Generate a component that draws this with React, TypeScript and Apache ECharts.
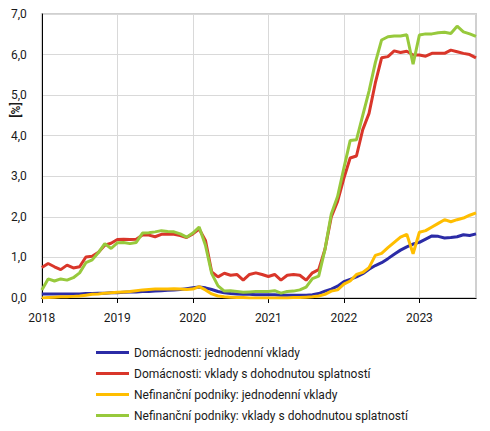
import React, { useEffect, useRef } from "react";
import * as echarts from "echarts";

const years = [2018, 2019, 2020, 2021, 2022, 2023];
const monthsInLastYear = 10;
const categories: string[] = [];
for (const y of years) {
  const n = y === 2023 ? monthsInLastYear : 12;
  for (let m = 1; m <= n; m++) categories.push(`${y}-${m < 10 ? "0" + m : m}`);
}

const seriesNames = [
  "Domácnosti: jednodenní vklady",
  "Domácnosti: vklady s dohodnutou splatností",
  "Nefinanční podniky: jednodenní vklady",
  "Nefinanční podniky: vklady s dohodnutou splatností",
];

const householdsOvernight = [
  0.10, 0.10, 0.10, 0.10, 0.10, 0.10, 0.10, 0.11, 0.11, 0.12, 0.12, 0.13,
  0.13, 0.14, 0.15, 0.15, 0.16, 0.16, 0.17, 0.18, 0.19, 0.20, 0.21, 0.23,
  0.25, 0.27, 0.25, 0.21, 0.16, 0.13, 0.11, 0.10, 0.09, 0.09, 0.08, 0.08,
  0.08, 0.08, 0.07, 0.07, 0.07, 0.07, 0.07, 0.08, 0.11, 0.17, 0.22, 0.29,
  0.40, 0.46, 0.52, 0.60, 0.71, 0.80, 0.87, 0.97, 1.08, 1.18, 1.26, 1.33,
  1.37, 1.45, 1.53, 1.52, 1.48, 1.49, 1.51, 1.56, 1.54, 1.58,
];

const householdsAgreed = [
  0.75, 0.85, 0.77, 0.70, 0.81, 0.74, 0.77, 1.01, 1.03, 1.13, 1.30, 1.35,
  1.44, 1.45, 1.44, 1.45, 1.55, 1.55, 1.51, 1.57, 1.58, 1.57, 1.54, 1.49,
  1.58, 1.70, 1.42, 0.64, 0.52, 0.61, 0.56, 0.58, 0.44, 0.58, 0.62, 0.58,
  0.53, 0.58, 0.44, 0.56, 0.58, 0.56, 0.44, 0.62, 0.70, 1.20, 2.00, 2.38,
  2.95, 3.45, 3.50, 4.15, 4.55, 5.30, 5.92, 5.95, 6.09, 6.05, 6.08, 5.99,
  5.99, 5.96, 6.03, 6.03, 6.03, 6.11, 6.07, 6.03, 6.00, 5.92,
];

const corporateOvernight = [
  0.00, 0.01, 0.02, 0.03, 0.03, 0.04, 0.05, 0.07, 0.09, 0.10, 0.12, 0.13,
  0.14, 0.15, 0.16, 0.18, 0.20, 0.21, 0.22, 0.22, 0.22, 0.23, 0.22, 0.21,
  0.22, 0.28, 0.20, 0.10, 0.05, 0.03, 0.02, 0.01, 0.01, 0.00, 0.00, 0.00,
  0.00, 0.00, 0.00, 0.00, 0.01, 0.01, 0.02, 0.03, 0.05, 0.09, 0.17, 0.20,
  0.34, 0.42, 0.58, 0.63, 0.75, 1.05, 1.10, 1.24, 1.37, 1.50, 1.57, 1.09,
  1.62, 1.66, 1.75, 1.84, 1.93, 1.88, 1.93, 1.97, 2.04, 2.10,
];

const corporateAgreed = [
  0.20, 0.47, 0.42, 0.47, 0.44, 0.50, 0.62, 0.87, 0.94, 1.12, 1.34, 1.22,
  1.36, 1.37, 1.34, 1.37, 1.60, 1.61, 1.63, 1.66, 1.64, 1.63, 1.58, 1.50,
  1.60, 1.75, 1.30, 0.60, 0.30, 0.17, 0.18, 0.16, 0.14, 0.15, 0.16, 0.16,
  0.16, 0.18, 0.12, 0.16, 0.17, 0.20, 0.27, 0.48, 0.54, 1.20, 2.07, 2.50,
  3.20, 3.88, 3.90, 4.50, 5.10, 5.80, 6.36, 6.44, 6.46, 6.46, 6.49, 5.76,
  6.48, 6.51, 6.51, 6.54, 6.55, 6.52, 6.70, 6.56, 6.51, 6.45,
];

const colors = ["#2B2BA6", "#D9362A", "#FFBE00", "#97C93C"];
const seriesData = [householdsOvernight, householdsAgreed, corporateOvernight, corporateAgreed];

const yearStart = (i: number) => i % 12 === 0;

export default function App() {
  const ref = useRef<HTMLDivElement>(null);
  useEffect(() => {
    if (!ref.current) return;
    const chart = echarts.init(ref.current, null, { renderer: "svg" });
    chart.setOption({
      animation: false,
      textStyle: { fontFamily: "Roboto" },
      grid: {
        left: 33,
        right: 14,
        top: 4,
        bottom: 133,
        show: true,
        borderColor: "#d0d0d0",
        borderWidth: 2,
      },
      legend: {
        orient: "vertical",
        left: 83,
        top: 332,
        height: 90,
        itemWidth: 33,
        itemHeight: 15,
        itemGap: 6,
        icon: "path://M0,6 L33,6 L33,9 L0,9 Z",
        textStyle: { fontFamily: "Roboto", fontSize: 12, color: "#1a1a1a", lineHeight: 15 },
        data: seriesNames,
      },
      xAxis: {
        type: "category",
        data: categories,
        boundaryGap: false,
        axisLine: { show: true, lineStyle: { color: "#000", width: 1 } },
        axisTick: { show: true, interval: (i: number) => yearStart(i), length: 5, lineStyle: { color: "#000" } },
        axisLabel: {
          interval: (i: number) => yearStart(i),
          formatter: (v: string) => v.slice(0, 4),
          margin: 14,
          fontSize: 12,
          color: "#1a1a1a",
          fontFamily: "Roboto",
        },
        splitLine: { show: true, interval: (i: number) => yearStart(i), lineStyle: { color: "#d9d9d9", width: 1 } },
      },
      yAxis: {
        type: "value",
        min: 0,
        max: 7,
        interval: 1,
        axisLine: { show: true, lineStyle: { color: "#000", width: 1 } },
        axisTick: { show: false },
        axisLabel: {
          formatter: (v: number) => v.toFixed(1).replace(".", ","),
          margin: 15,
          fontSize: 12,
          color: "#1a1a1a",
          fontFamily: "Roboto",
        },
        splitLine: { show: true, lineStyle: { color: "#d9d9d9", width: 1 } },
      },
      graphic: [
        {
          type: "text",
          x: 8,
          y: 102,
          rotation: Math.PI / 2,
          style: {
            text: "[%]",
            fontFamily: "Roboto",
            fontSize: 12,
            fontWeight: "bold",
            fill: "#1a1a1a",
            align: "center",
            verticalAlign: "middle",
          },
        },
      ],
      series: seriesNames.map((name, k) => ({
        name,
        type: "line",
        data: seriesData[k],
        symbol: "none",
        showSymbol: false,
        lineStyle: { color: colors[k], width: 3 },
        itemStyle: { color: colors[k] },
      })),
    });
    return () => chart.dispose();
  }, []);
  return <div ref={ref} style={{ width: 482, height: 423 }} />;
}
